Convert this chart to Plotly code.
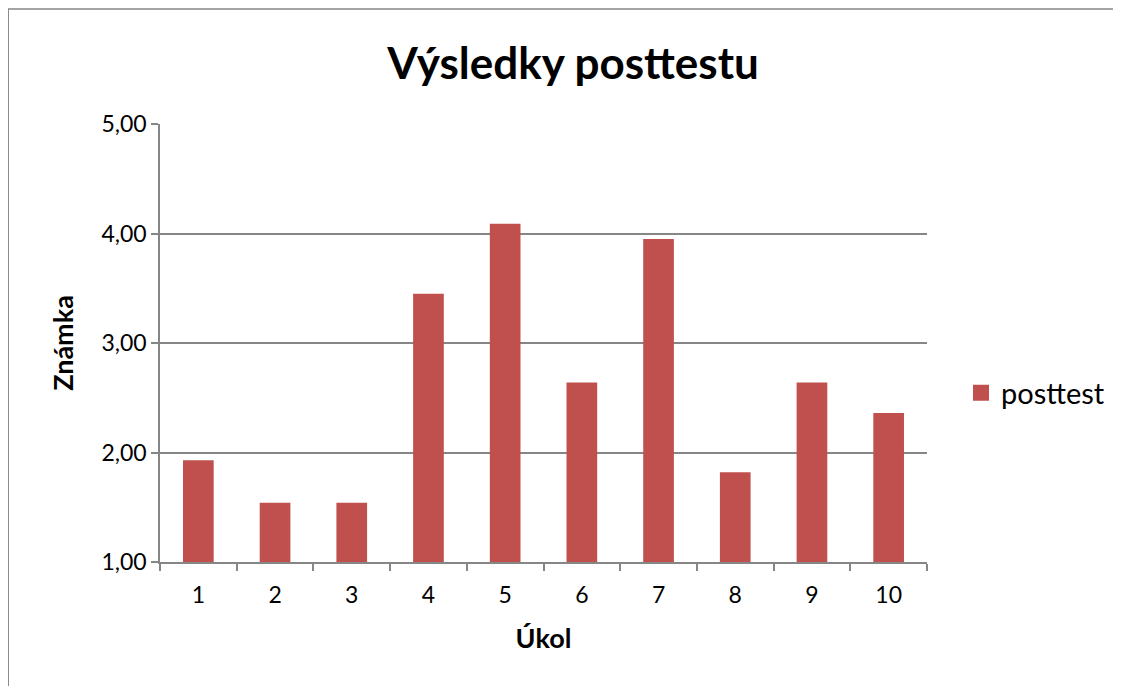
import plotly.graph_objects as go

categories = ["1", "2", "3", "4", "5", "6", "7", "8", "9", "10"]
posttest = [1.93, 1.54, 1.54, 3.45, 4.09, 2.64, 3.95, 1.82, 2.64, 2.36]
y_ticks = [1, 2, 3, 4, 5]

OFF = 8  # page body margin
W, H = 1121 - OFF, 686 - OFF
# plot area in page pixels: x 160..928, y 124..562
L, T = 160 - OFF, 124 - OFF
R, B = W - (928 - OFF), H - (562 - OFF)
PW, PH = W - L - R, H - T - B

def px(xp):  # page x -> paper
    return (xp - OFF - L) / PW

def py(yp):  # page y -> paper
    return (H - B - (yp - OFF)) / PH

fig = go.Figure()
fig.add_trace(go.Bar(x=categories, y=posttest, name="posttest", showlegend=False,
                     marker=dict(color="#C0504D", line=dict(width=0))))
fig.add_trace(go.Scatter(x=[None], y=[None], mode="markers", name="posttest",
                         marker=dict(symbol="square", size=18, color="#C0504D")))

axis_col = "#868686"
font_fam = "Lato, 'Open Sans', sans-serif"

fig.update_layout(
    width=W, height=H,
    margin=dict(l=L, r=R, t=T, b=B),
    paper_bgcolor="white", plot_bgcolor="white",
    separators=", ",
    bargap=0.6,
    showlegend=True,
    font=dict(family=font_fam, color="black"),
    title=dict(text="<b>Výsledky posttestu</b>", x=(573 - OFF) / W, xanchor="center",
               y=1 - (64 - OFF) / H, yanchor="middle",
               font=dict(size=44, family=font_fam, color="black")),
    legend=dict(x=px(961), xanchor="left", y=py(393), yanchor="middle",
                font=dict(size=29, family=font_fam, color="black"),
                bgcolor="rgba(0,0,0,0)", itemwidth=30),
    xaxis=dict(type="category", showline=True, linecolor=axis_col, linewidth=1.5,
               ticks="outside", tickson="boundaries", ticklen=7, tickcolor=axis_col,
               tickwidth=1.5, showgrid=False, ticklabelstandoff=12,
               tickfont=dict(size=23, family=font_fam),
               title=dict(text="<b>Úkol</b>", font=dict(size=27, family=font_fam), standoff=22)),
    yaxis=dict(range=[1, 5], tickvals=y_ticks, tickformat=".2f",
               showline=True, linecolor=axis_col, linewidth=1.5,
               ticks="outside", ticklen=7, tickcolor=axis_col, tickwidth=1.5,
               showgrid=True, gridcolor=axis_col, gridwidth=1.5, zeroline=False,
               tickfont=dict(size=23, family=font_fam),
               title=dict(text="<b>Známka</b>", font=dict(size=27, family=font_fam), standoff=20)),
)

# chart border (Excel chart area frame)
fig.add_shape(type="rect", xref="paper", yref="paper",
              x0=px(8), x1=px(1130), y0=py(700), y1=py(9),
              line=dict(color=axis_col, width=1.5), fillcolor="rgba(0,0,0,0)", layer="below")

fig.write_html("out.html")
